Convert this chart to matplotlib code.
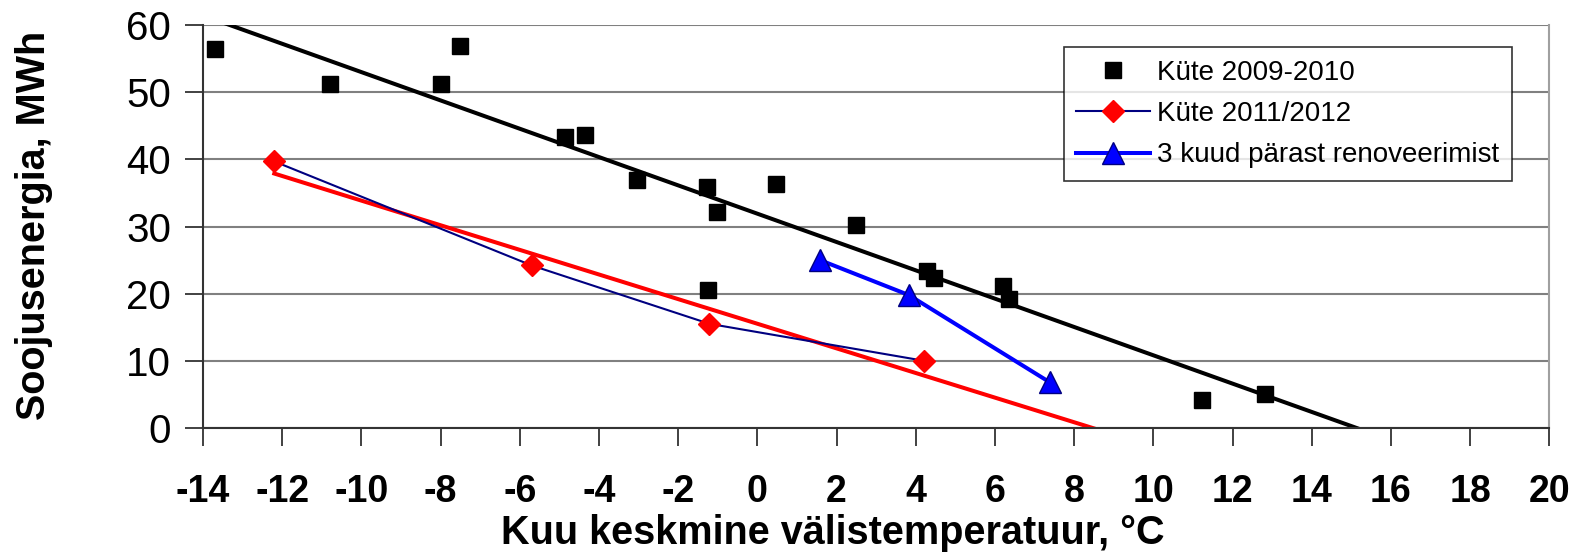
import numpy as np
import matplotlib.pyplot as plt

plt.rcParams['font.family'] = ['Liberation Sans', 'DejaVu Sans']

# Küte 2009-2010 (black squares)
temp_0910 = [-13.7, -10.8, -8.0, -7.5, -4.86, -4.35, -3.04, -1.28, -1.01, 0.46,
             2.49, -1.24, 4.29, 4.46, 6.21, 6.36, 11.24, 12.82]
energy_0910 = [56.5, 51.3, 51.3, 56.9, 43.3, 43.7, 36.9, 35.9, 32.1, 36.3,
               30.2, 20.5, 23.4, 22.4, 21.1, 19.2, 4.1, 5.0]

# Küte 2011/2012 (red diamonds)
temp_1112 = [-12.2, -5.7, -1.21, 4.2]
energy_1112 = [39.7, 24.2, 15.5, 10.0]

# 3 kuud pärast renoveerimist (blue triangles)
temp_reno = [1.58, 3.82, 7.38]
energy_reno = [25.0, 19.8, 6.8]

xticks = list(range(-14, 21, 2))
yticks = list(range(0, 61, 10))

fig = plt.figure(figsize=(15.81, 5.6), dpi=100)
ax = fig.add_axes([0.1284, 0.236, 0.8516, 0.719])

# linear trendlines like Excel
k1, b1 = np.polyfit(temp_0910, energy_0910, 1)
xt1 = np.array([-14, 20])
ax.plot(xt1, k1 * xt1 + b1, color='black', lw=2.9, zorder=2)
k2, b2 = np.polyfit(temp_1112, energy_1112, 1)
xt2 = np.array([temp_1112[0], 20])
ax.plot(xt2, k2 * xt2 + b2, color='#ff0000', lw=2.9, zorder=2)

ax.plot(temp_0910, energy_0910, 's', color='black', ms=12, ls='none',
        label='Küte 2009-2010', zorder=4)
ax.plot(temp_1112, energy_1112, color='#000080', lw=1.5, marker='D', ms=11.5,
        mfc='#ff0000', mec='#ff0000', label='Küte 2011/2012', zorder=3)
ax.plot(temp_reno, energy_reno, color='#0000ff', lw=2.9, marker='^', ms=16,
        mfc='#0000ff', mec='#000080', mew=1, label='3 kuud pärast renoveerimist', zorder=3)

ax.set_xlim(-14, 20)
ax.set_ylim(0, 60)
ax.set_xticks(xticks)
ax.set_yticks(yticks)
ax.set_xticklabels([str(t) for t in xticks], fontsize=27, fontweight='bold')
ax.set_yticklabels([str(t) for t in yticks], fontsize=29)
ax.tick_params(axis='both', direction='out', length=13, width=1.3, color='#333333')
ax.tick_params(axis='x', pad=20)
ax.tick_params(axis='y', pad=10)

ax.yaxis.grid(True, color='#808080', lw=1.5)
ax.set_axisbelow(True)
for side in ['left', 'bottom']:
    ax.spines[side].set_color('#333333')
    ax.spines[side].set_linewidth(1.5)
ax.spines['right'].set_color('#a0a0a0')
ax.spines['right'].set_linewidth(1.5)
ax.spines['top'].set_visible(False)

ax.set_xlabel('Kuu keskmine välistemperatuur, °C', fontsize=28.5, fontweight='bold', va='center')
ax.set_ylabel('Soojusenergia, MWh', fontsize=28.5, fontweight='bold', va='center')
ax.xaxis.set_label_coords(0.468, -0.262)
ax.yaxis.set_label_coords(-0.1255, 0.504)

leg = ax.legend(loc='upper right', bbox_to_anchor=(0.972, 0.945), borderaxespad=0,
                fontsize=20, frameon=True, fancybox=False, handlelength=2.66,
                handletextpad=0.25, labelspacing=0.55, borderpad=0.45)
leg.get_frame().set_edgecolor('black')
leg.get_frame().set_linewidth(1.2)

fig.savefig('out.png', dpi=100)
